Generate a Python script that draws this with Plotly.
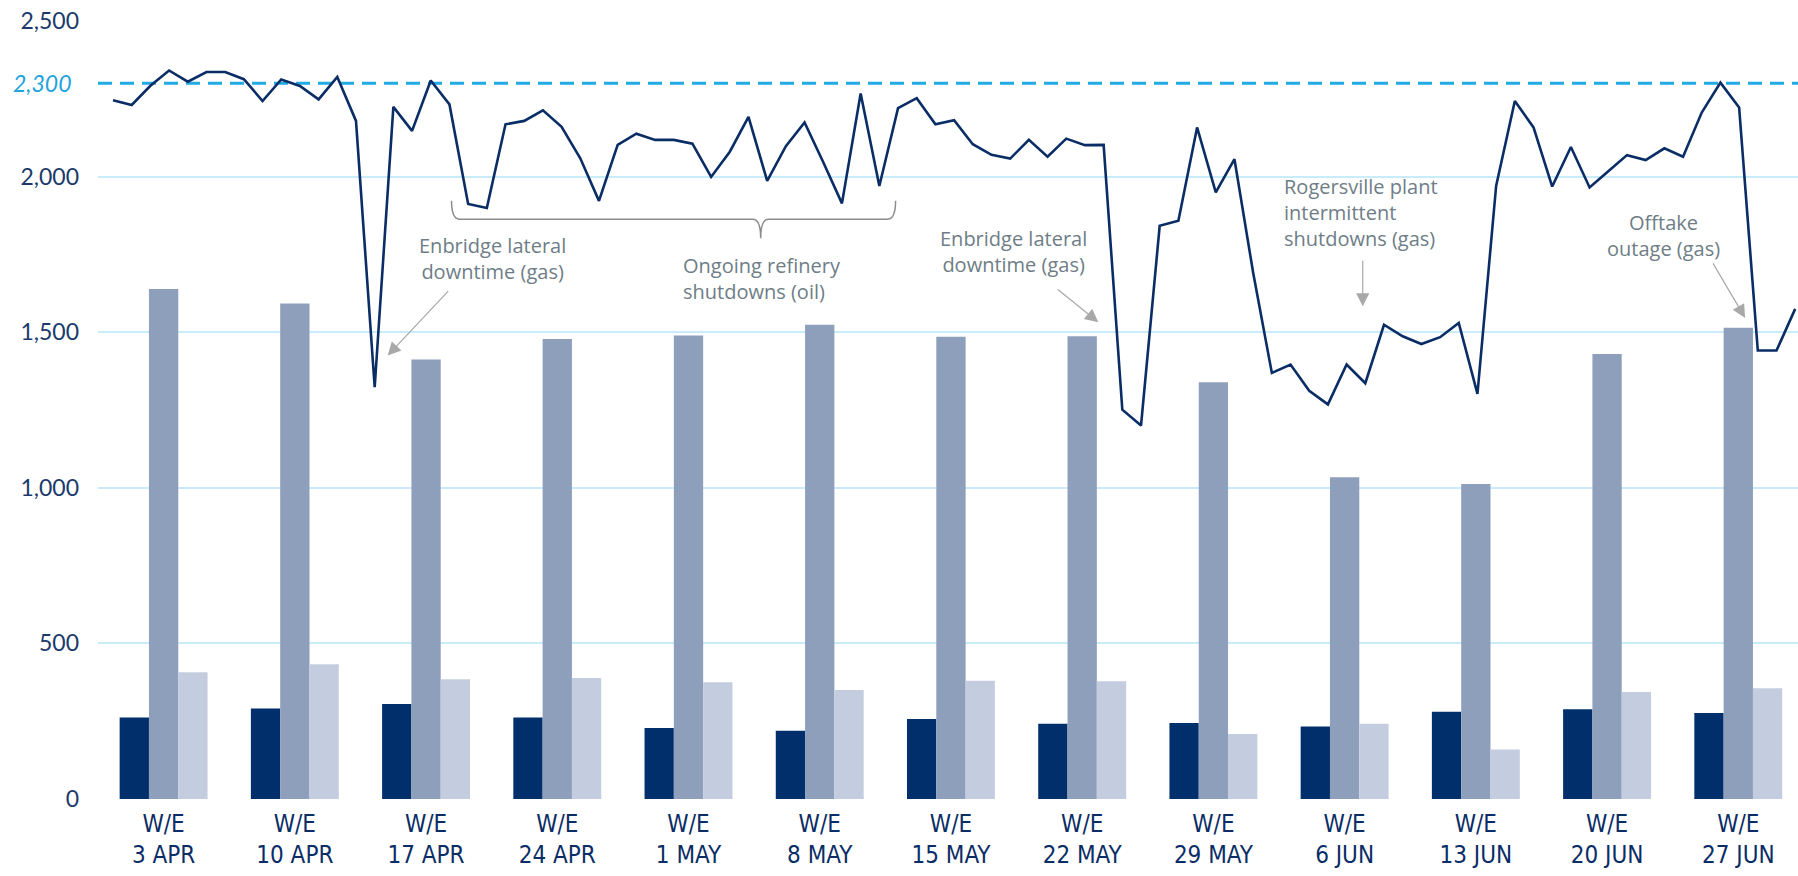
import plotly.graph_objects as go

# ---------------- data ----------------
weeks = ["3 APR", "10 APR", "17 APR", "24 APR", "1 MAY", "8 MAY", "15 MAY",
         "22 MAY", "29 MAY", "6 JUN", "13 JUN", "20 JUN", "27 JUN"]
series_dark = [262, 291, 305, 262, 228, 219, 257, 242, 244, 233, 280, 288, 276]
series_mid = [1639, 1592, 1412, 1478, 1489, 1524, 1485, 1487, 1339, 1034, 1012, 1430, 1514]
series_light = [407, 433, 385, 389, 375, 350, 380, 378, 209, 242, 159, 344, 356]

daily_values = [
    2245, 2230, 2292, 2341, 2305, 2336, 2336, 2313, 2243, 2312, 2291, 2248, 2320, 2179,
    1323, 2224, 2147, 2309, 2232, 1912, 1899, 2168, 2179, 2213, 2160, 2059, 1922, 2102,
    2138, 2118, 2118, 2106, 1999, 2080, 2192, 1986, 2098, 2174, 2046, 1914, 2267, 1970,
    2220, 2252, 2168, 2181, 2104, 2070, 2058, 2118, 2064, 2122, 2101, 2102, 1251, 1200,
    1842, 1858, 2158, 1949, 2056, 1691, 1369, 1396, 1312, 1268, 1396, 1336, 1524, 1487,
    1462, 1484, 1530, 1302, 1970, 2243, 2158, 1968, 2095, 1965, 2017, 2069, 2053, 2091,
    2064, 2206, 2302, 2222, 1441, 1441, 1575,
]
day_index = list(range(len(daily_values)))

target_value = 2300
y_ticks = [0, 500, 1000, 1500, 2000, 2500]

# ---------------- styles ----------------
NAVY = "#0a2d66"
C_DARK = "#002f6c"
C_MID = "#8e9fbb"
C_LIGHT = "#c4cddf"
GRID = "#c9ecfb"
TARGET = "#22aae6"
NOTE = "#6e7d86"
ARROW = "#a8a8a8"
FONT = "Lato, 'Noto Sans', sans-serif"
NOTE_FONT = "'Open Sans', Lato, sans-serif"
XFONT = "'Liberation Sans Narrow', 'DejaVu Sans Condensed', 'Arial Narrow', sans-serif"

ticktext = [f"W/E<br>{w}" for w in weeks]

fig = go.Figure()
for vals, col, name in [(series_dark, C_DARK, "Series 1"),
                        (series_mid, C_MID, "Series 2"),
                        (series_light, C_LIGHT, "Series 3")]:
    fig.add_trace(go.Bar(x=weeks, y=vals, name=name, marker_color=col,
                         marker_line_width=0, showlegend=False,
                         xaxis="x", yaxis="y"))

fig.add_trace(go.Scatter(x=day_index, y=daily_values, mode="lines",
                         line=dict(color=NAVY, width=2.6),
                         showlegend=False, xaxis="x2", yaxis="y",
                         name="Daily"))

fig.update_layout(
    width=1798, height=876,
    margin=dict(l=98, r=0, t=21, b=77),
    plot_bgcolor="white", paper_bgcolor="white",
    barmode="group", bargap=0.33, bargroupgap=0,
    xaxis=dict(type="category", range=[-0.5, 12.455],
               tickvals=weeks, ticktext=ticktext,
               tickfont=dict(family=XFONT, size=24, color=NAVY),
               showgrid=False, zeroline=False, showline=False, ticks="",
               ticklabelstandoff=8),
    xaxis2=dict(overlaying="x", range=[-0.803, 90.15], visible=False,
                showgrid=False, zeroline=False),
    yaxis=dict(range=[0, 2500], tickvals=y_ticks, tickformat=",d",
               tickfont=dict(family=FONT, size=23, color="#1b3a6b"),
               showgrid=True, gridcolor=GRID, gridwidth=2,
               zeroline=False, showline=False, ticks="",
               ticklabelstandoff=18),
)

# target line
fig.add_shape(type="line", xref="paper", x0=0, x1=1, yref="y",
              y0=target_value, y1=target_value,
              line=dict(color=TARGET, width=3, dash="14px,8px"), layer="below")
fig.add_annotation(xref="paper", x=0, yref="y", y=target_value,
                   text=f"{target_value:,}", showarrow=False, xanchor="right",
                   xshift=-24, font=dict(family=FONT, size=23, color="#1ea3dc",
                                         style="italic"))

# brace under the refinery period
brace = dict(x0=2.194, x1=5.578, xm=4.550, ytop=1922, ymid=1863, ytip=1802, r=0.06)
p = (f"M {brace['x0']},{brace['ytop']} "
     f"Q {brace['x0']},{brace['ymid']} {brace['x0'] + brace['r']},{brace['ymid']} "
     f"L {brace['xm'] - brace['r']},{brace['ymid']} "
     f"Q {brace['xm']},{brace['ymid']} {brace['xm']},{brace['ytip']} "
     f"Q {brace['xm']},{brace['ymid']} {brace['xm'] + brace['r']},{brace['ymid']} "
     f"L {brace['x1'] - brace['r']},{brace['ymid']} "
     f"Q {brace['x1']},{brace['ymid']} {brace['x1']},{brace['ytop']}")
fig.add_shape(type="path", path=p, xref="x", yref="y",
              line=dict(color="#8c8c8c", width=1.5))

# text notes: (text, x, block-centre y, anchor)
notes = [
    ("Enbridge lateral<br>downtime (gas)", 2.509, 1738, "center"),
    ("Ongoing refinery<br>shutdowns (oil)", 3.942, 1673, "left"),
    ("Enbridge lateral<br>downtime (gas)", 6.480, 1759, "center"),
    ("Rogersville plant<br>intermittent<br>shutdowns (gas)", 8.519, 1885, "left"),
    ("Offtake<br>outage (gas)", 11.427, 1812, "center"),
]
for text, x, y, anchor in notes:
    fig.add_annotation(xref="x", yref="y", x=x, y=y, text=text, showarrow=False,
                       xanchor=anchor, yanchor="middle", align=anchor,
                       font=dict(family=NOTE_FONT, size=20, color=NOTE))

# arrows: tip (x, y) and tail offset in px
arrows = [(1.707, 1425, 62, -66), (7.123, 1532, -42, -34),
          (9.138, 1583, 0, -47), (12.052, 1546, -33, -56)]
for x, y, ax, ay in arrows:
    fig.add_annotation(xref="x", yref="y", x=x, y=y, ax=ax, ay=ay, text="",
                       showarrow=True, arrowhead=2, arrowsize=2.2, arrowwidth=1.2,
                       arrowcolor=ARROW, standoff=0)

fig.write_html("out.html")
